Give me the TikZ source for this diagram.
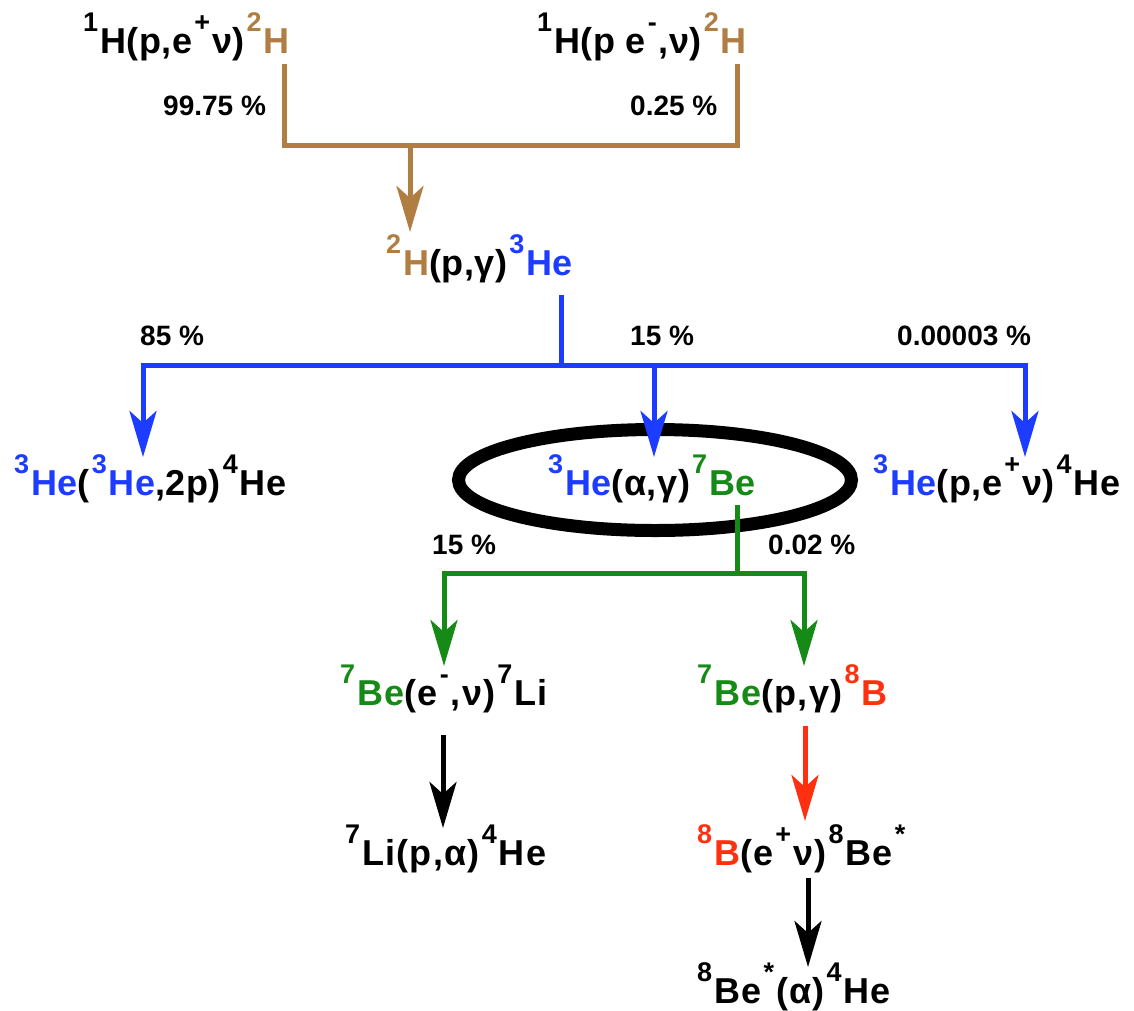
\documentclass[tikz,border=0pt]{standalone}
\usepackage{fontspec}
\setmainfont{Liberation Sans}
\usetikzlibrary{arrows.meta,shapes.geometric}
\definecolor{ppbrown}{RGB}{176,125,66}
\definecolor{ppblue}{RGB}{28,60,255}
\definecolor{ppgreen}{RGB}{22,138,22}
\definecolor{ppred}{RGB}{255,48,16}
% raised isotope / charge marks, resting just below the cap line
\newcommand\upx[1]{\kern2pt\raisebox{0.6em}{\fontsize{27}{27}\selectfont #1}\kern2pt}
\newcommand\cbrn[1]{\textcolor{ppbrown}{#1}}
\newcommand\cblu[1]{\textcolor{ppblue}{#1}}
\newcommand\cgrn[1]{\textcolor{ppgreen}{#1}}
\newcommand\cred[1]{\textcolor{ppred}{#1}}
\tikzset{
  reac/.style={inner sep=0pt, anchor=base west,
    font=\fontsize{36}{36}\selectfont\bfseries\addfontfeature{LetterSpace=1.5}},
  reacw/.style={reac,
    font=\fontsize{36}{36}\selectfont\bfseries\addfontfeature{LetterSpace=3.5}},
  pct/.style={inner sep=0pt, anchor=base west, font=\fontsize{28}{28}\selectfont\bfseries},
  flow/.style={line width=5pt},
  tipd/.style={-{Stealth[length=46pt,width=27pt,inset=12pt]}},
}
\begin{document}
\begin{tikzpicture}[x=1pt,y=-1pt]
\useasboundingbox (0,0) rectangle (1134,1010);

% reactions
\node[reac] (pp)   at (81,53)   {\upx{1}H(p,e\upx{+}ν)\cbrn{\upx{2}H}};
\node[reac] (pep)  at (535,53)  {\upx{1}H(p e\upx{-},ν)\cbrn{\upx{2}H}};
\node[reac] (dp)   at (384,275) {\cbrn{\upx{2}H}(p,γ)\cblu{\upx{3}He}};
\node[reac] (hhe)  at (12,495)  {\cblu{\upx{3}He}(\cblu{\upx{3}He},2p)\upx{4}He};
\node[reac] (hea)  at (546,495) {\cblu{\upx{3}He}(α,γ)\cgrn{\upx{7}Be}};
\node[reac] (hep)  at (871,495) {\cblu{\upx{3}He}(p,e\upx{+}ν)\upx{4}He};
\node[reacw] (bee)  at (338,705) {\cgrn{\upx{7}Be}(e\upx{-},ν)\upx{7}Li};
\node[reacw] (bep)  at (695,705) {\cgrn{\upx{7}Be}(p,γ)\cred{\upx{8}B}};
\node[reacw] (lip)  at (343,865) {\upx{7}Li(p,α)\upx{4}He};
\node[reacw] (bdec) at (695,865) {\cred{\upx{8}B}(e\upx{+}ν)\upx{8}Be\upx{*}};
\node[reacw] (bea)  at (695,1003){\upx{8}Be\upx{*}(α)\upx{4}He};

% branching ratios
\node[pct] (p1) at (163,115) {99.75 \%};
\node[pct] (p2) at (630,115) {0.25 \%};
\node[pct] (p3) at (140,345) {85 \%};
\node[pct] (p4) at (630,345) {15 \%};
\node[pct] (p5) at (897,345) {0.00003 \%};
\node[pct] (p6) at (432,554) {15 \%};
\node[pct] (p7) at (768,554) {0.02 \%};

% ring around the 3He(alpha,gamma)7Be step
\node[ellipse, draw, line width=13pt, minimum width=393pt, minimum height=101pt, inner sep=0pt] (ring) at (655,480) {};

% branch points and arrow ends
\coordinate (bL0) at (284,64);  \coordinate (bL1) at (284,145);
\coordinate (bR0) at (737,64);  \coordinate (bR1) at (737,145);
\coordinate (bM)  at (410,145); \coordinate (bT)  at (410,232);

\coordinate (uA) at (561,295);  \coordinate (uJ) at (561,365);
\coordinate (uL) at (143,365);  \coordinate (uLt) at (143,457);
\coordinate (uC) at (654,365);  \coordinate (uCt) at (654,457);
\coordinate (uR) at (1025,365); \coordinate (uRt) at (1025,457);

\coordinate (gA) at (737,505);  \coordinate (gJ) at (737,573);
\coordinate (gL) at (444,573);  \coordinate (gLt) at (444,666);
\coordinate (gR) at (804,573);  \coordinate (gRt) at (804,666);

\coordinate (k1) at (443,735);  \coordinate (k1t) at (443,828);
\coordinate (r1) at (805,726);  \coordinate (r1t) at (805,821);
\coordinate (k2) at (808,878);  \coordinate (k2t) at (808,967);

% pp branches
\draw[flow, ppbrown] (bL0) -- (bL1) -- (bR1) -- (bR0);
\draw[flow, ppbrown, tipd] (bM) -- (bT);

% 3He branches
\draw[flow, ppblue] (uA) -- (uJ);
\draw[flow, ppblue, line cap=rect] (uL) -- (uR);
\draw[flow, ppblue, tipd] (uL) -- (uLt);
\draw[flow, ppblue, tipd] (uC) -- (uCt);
\draw[flow, ppblue, tipd] (uR) -- (uRt);

% 7Be branches
\draw[flow, ppgreen] (gA) -- (gJ);
\draw[flow, ppgreen, line cap=rect] (gL) -- (gR);
\draw[flow, ppgreen, tipd] (gL) -- (gLt);
\draw[flow, ppgreen, tipd] (gR) -- (gRt);

% final steps
\draw[flow, black, tipd] (k1) -- (k1t);
\draw[flow, ppred, tipd] (r1) -- (r1t);
\draw[flow, black, tipd] (k2) -- (k2t);
\end{tikzpicture}
\end{document}
